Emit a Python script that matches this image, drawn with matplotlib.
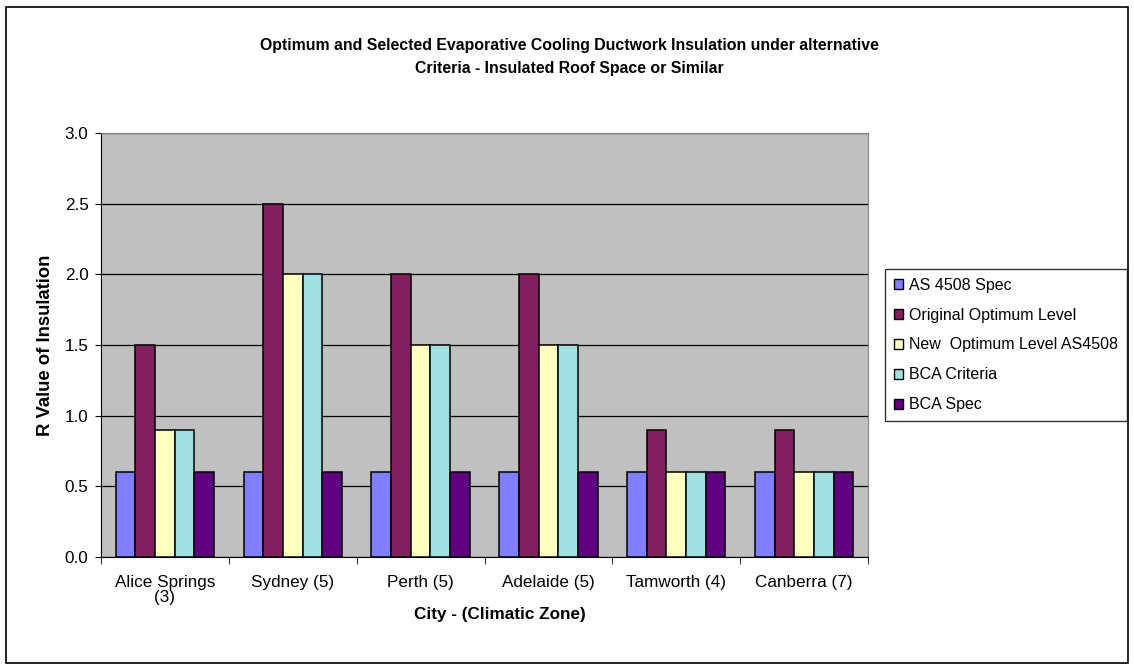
import numpy as np
import matplotlib
matplotlib.use("Agg")
from matplotlib import pyplot as plt
from matplotlib.patches import Rectangle

plt.rcParams['font.family'] = ['Liberation Sans', 'DejaVu Sans']

cities = ['Alice Springs\n(3)', 'Sydney (5)', 'Perth (5)', 'Adelaide (5)', 'Tamworth (4)', 'Canberra (7)']
series_names = ['AS 4508 Spec', 'Original Optimum Level', 'New  Optimum Level AS4508',
                'BCA Criteria', 'BCA Spec']
as4508_spec = [0.6, 0.6, 0.6, 0.6, 0.6, 0.6]
original_optimum = [1.5, 2.5, 2.0, 2.0, 0.9, 0.9]
new_optimum = [0.9, 2.0, 1.5, 1.5, 0.6, 0.6]
bca_criteria = [0.9, 2.0, 1.5, 1.5, 0.6, 0.6]
bca_spec = [0.6, 0.6, 0.6, 0.6, 0.6, 0.6]
colors = ['#8080FF', '#802060', '#FFFFC0', '#A0E0E0', '#600080']

W, H = 1134, 670
fig = plt.figure(figsize=(W / 100, H / 100), dpi=100)
# outer chart frame
fig.patches.append(Rectangle((6 / W, 7 / H), 1122 / W, 656 / H, transform=fig.transFigure,
                             fill=False, edgecolor='black', linewidth=1.2))

ax = fig.add_axes([101 / W, 1 - 557 / H, 767 / W, 424 / H])
ax.set_facecolor('#C0C0C0')

x = np.arange(len(cities))
w = 0.154
all_series = [as4508_spec, original_optimum, new_optimum, bca_criteria, bca_spec]
for i, (vals, name, c) in enumerate(zip(all_series, series_names, colors)):
    ax.bar(x + (i - 2) * w, vals, width=w, color=c, edgecolor='black', linewidth=1.1,
           label=name, zorder=3)

ax.set_xlim(-0.5, len(cities) - 0.5)
ax.set_ylim(0, 3.0)
yt = np.arange(0, 3.01, 0.5)
ax.set_yticks(yt)
ax.set_yticklabels(['%.1f' % v for v in yt], fontsize=12.3)
ax.yaxis.grid(True, color='black', linewidth=0.9, zorder=1)
ax.set_axisbelow(True)

ax.set_xticks(x)
ax.set_xticklabels(cities, fontsize=12.3, linespacing=1.0)
ax.set_xticks(np.arange(-0.5, len(cities), 1.0), minor=True)
ax.tick_params(axis='x', which='major', length=0, pad=13)
ax.tick_params(axis='x', which='minor', length=5, direction='out')
ax.tick_params(axis='y', length=4, direction='out', pad=5)

for s in ['top', 'right']:
    ax.spines[s].set_color('#808080')
for s in ['left', 'bottom']:
    ax.spines[s].set_color('black')

# axis titles, placed in axes fractions
ax.set_ylabel('R Value of Insulation', fontsize=13.3, fontweight='bold')
ax.yaxis.set_label_coords(-47 / 767, 0.5)
ax.set_xlabel('City - (Climatic Zone)', fontsize=12.3, fontweight='bold')
ax.xaxis.set_label_coords((500 - 101) / 767, -(614 - 557) / 424)
ax.xaxis.label.set_va('center')

fig.text(569 / W, 1 - 57 / H,
         'Optimum and Selected Evaporative Cooling Ductwork Insulation under alternative\n'
         'Criteria - Insulated Roof Space or Similar',
         ha='center', va='center', fontsize=11.4, fontweight='bold', linespacing=1.65)

leg = fig.legend(loc='upper left', bbox_to_anchor=(885 / W, 1 - 269 / H), fontsize=11.5,
                 frameon=True, fancybox=False, edgecolor='black', handlelength=0.6,
                 handleheight=0.6, handletextpad=0.35, labelspacing=0.93, borderpad=0.55,
                 borderaxespad=0)
leg.get_frame().set_linewidth(1.0)
for h in leg.legend_handles:
    h.set_linewidth(1.0)

fig.savefig('out.png', dpi=100)
